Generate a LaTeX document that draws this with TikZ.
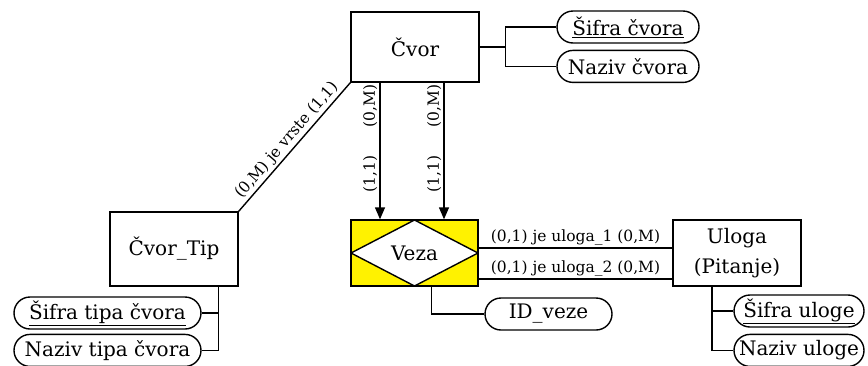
\documentclass[tikz,border=0pt]{standalone}
\usepackage{fontspec}
\setmainfont{DejaVu Serif}
\usetikzlibrary{positioning,shapes.misc,arrows.meta}

\begin{document}
\begin{tikzpicture}[x=1pt,y=-1pt,line width=1.4pt,>={Triangle[length=12pt,width=10pt]},
    entity/.style={rectangle, draw, minimum width=128pt, minimum height=70pt, align=center, font=\fontsize{20}{30}\selectfont},
    attr/.style={rounded rectangle, draw, minimum height=32pt, inner xsep=2pt, inner ysep=0pt, font=\fontsize{20}{24}\selectfont},
    card/.style={font=\fontsize{15.5}{19}\selectfont, inner sep=2pt}]
        \useasboundingbox (0,0) rectangle (868,365);
        % Nodes
        \node [entity] (cvor) at (415,47) {Čvor};
        \node [entity, minimum height=74pt] (cvortip) at (174,249) {Čvor\_Tip};
        \node [entity, minimum height=66pt] (uloga) at (737,253) {Uloga\\(Pitanje)};
        \node [entity, minimum width=127pt, minimum height=66pt, fill=yellow,
            path picture={\draw[fill=white] (path picture bounding box.west) -- (path picture bounding box.north)
            -- (path picture bounding box.east) -- (path picture bounding box.south) -- cycle;}] (veza) at (414.5,253) {Veza};

        \node [attr, minimum width=146pt] (sifraC) at (628,27) {\underline{Šifra čvora}};
        \node [attr, minimum width=146pt, below=6pt of sifraC] (nazivC) {Naziv čvora};
        \node [attr, minimum width=191pt] (sifraT) at (107.5,313) {\underline{Šifra tipa čvora}};
        \node [attr, minimum width=191pt, below=4pt of sifraT] (nazivT) {Naziv tipa čvora};
        \node [attr, minimum width=131pt] (idveze) at (548.5,314) {ID\_veze};
        \node [attr, minimum width=134pt] (sifraU) at (799,311) {\underline{Šifra uloge}};
        \node [attr, minimum width=134pt, below=6pt of sifraU] (nazivU) {Naziv uloge};

        % Attribute lines
        \draw (cvor.east) -- ++(26,0) coordinate (cvorj);
        \draw (sifraC.west) -| (cvorj) |- (nazivC.west);
        \draw ([xshift=-20pt]cvortip.south east) coordinate (tipj) |- (nazivT.east);
        \draw (sifraT.east) -- (sifraT.east -| tipj);
        \draw ([xshift=17pt]veza.south) |- (idveze.west);
        \draw ([xshift=-25pt]uloga.south) coordinate (ulj) |- (nazivU.west);
        \draw (sifraU.west) -- (sifraU.west -| ulj);

        % Relationships
        \draw (cvortip.north east) -- node[card, sloped, above] {(0,M) je vrste (1,1)} (cvor.south west);
        \draw[->] ([xshift=-35pt]cvor.south) coordinate (c1) -- node[card, pos=0.17, rotate=90, above] {(0,M)}
            node[card, pos=0.67, rotate=90, above] {(1,1)} (c1 |- veza.north);
        \draw[->] ([xshift=29pt]cvor.south) coordinate (c2) -- node[card, pos=0.17, rotate=90, above] {(0,M)}
            node[card, pos=0.67, rotate=90, above] {(1,1)} (c2 |- veza.north);
        \draw ([yshift=5pt]veza.east) coordinate (v1) -- node[card, above] {(0,1) je uloga\_1 (0,M)} (v1 -| uloga.west);
        \draw ([yshift=-26pt]veza.east) coordinate (v2) -- node[card, above] {(0,1) je uloga\_2 (0,M)} (v2 -| uloga.west);
\end{tikzpicture}
\end{document}
